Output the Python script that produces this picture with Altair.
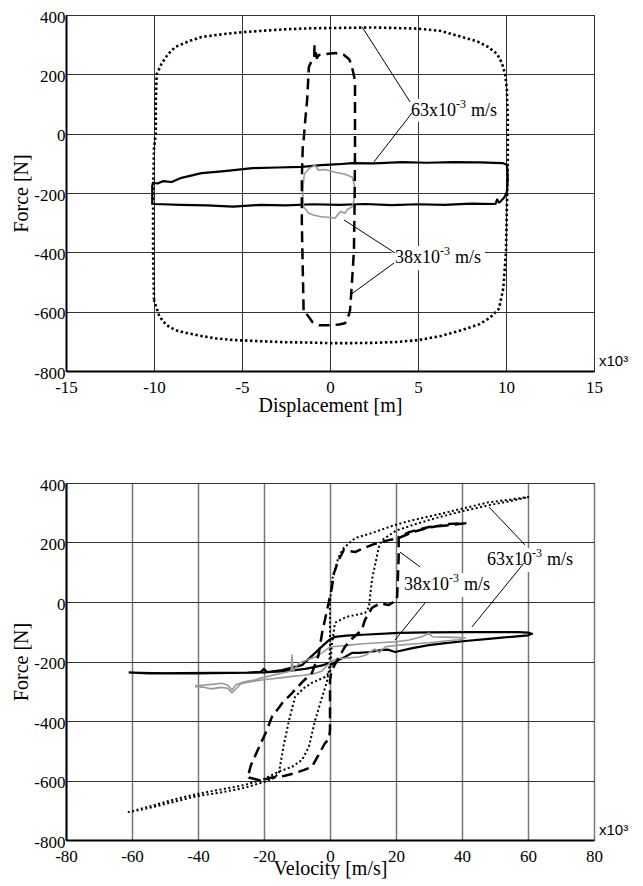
import altair as alt
import pandas as pd

# ---------------- TOP PANEL: Force [N] vs Displacement [x10^-3 m] ----------------
# 63x10^-3 m/s, dotted (large amplitude)
top_dot_x = [-10.0, -10.05, -10.05, -10.0, -9.9, -9.9, -9.85, -9.55, -9.2, -8.8, -8.0, -7.3, -6.0, -5.0,
             -3.8, -2.5, -1.2, 0.0, 1.2, 2.5, 3.8, 5.0, 6.3, 7.5, 8.4, 9.0, 9.5, 9.77, 9.95, 10.05, 10.1,
             10.1, 10.05, 10.0, 9.85, 9.6, 9.1, 8.5, 7.5, 6.3, 5.0, 3.8, 2.5, 1.2, 0.0, -1.2, -2.5, -3.8,
             -5.4, -6.5, -7.5, -8.3, -8.8, -9.3, -9.7, -10.0]
top_dot_f = [-560, -400, -200, -50, 0, 100, 200, 238, 268, 292, 312, 326, 336, 342,
             347, 352, 355, 356, 357, 358, 356, 354, 346, 326, 310, 292, 268, 238, 200, 150, 50,
             -100, -250, -400, -520, -590, -620, -642, -662, -682, -696, -702, -705, -706, -706, -704, -703, -700,
             -696, -690, -680, -670, -662, -645, -615, -561]

# 63x10^-3 m/s, solid black
top_sol_x = [-10.1, -10.05, -9.8, -9.5, -9.0, -8.5, -7.3, -6.0, -4.4, -3.0, -1.6, -0.5, 0.5, 1.25, 2.5,
             4.1, 5.5, 7.0, 8.5, 9.8, 10.05, 10.1, 10.05, 9.9, 9.7, 9.6, 9.5, 9.4, 8.0, 6.5, 5.0, 3.5,
             2.0, 0.5, -1.0, -2.5, -4.0, -5.5, -7.0, -8.5, -9.5, -10.1, -10.1]
top_sol_f = [-173, -165, -168, -160, -163, -150, -133, -126, -116, -114, -112, -106, -103, -99, -100,
             -96, -98, -96, -97, -99, -105, -150, -197, -215, -228, -232, -222, -237, -236, -240, -238, -241,
             -237, -240, -238, -242, -240, -246, -242, -240, -238, -237, -173]

# 38x10^-3 m/s, dashed black
top_dash_x = [-1.5, -1.55, -1.6, -1.6, -1.55, -1.5, -1.4, -1.3, -1.2, -1.05, -0.9, -0.88, -0.75, -0.63,
              -0.3, 0.28, 0.8, 1.1, 1.25, 1.38, 1.42, 1.42, 1.4, 1.36, 1.25, 1.14, 1.0, 0.85, 0.5, -0.06,
              -0.6, -1.0, -1.2, -1.5]
top_dash_f = [-595, -450, -300, -150, -50, -22, 50, 113, 225, 245, 258, 295, 255, 265,
              268, 272, 265, 250, 225, 190, 170, -50, -224, -393, -500, -595, -625, -639, -643, -646,
              -646, -635, -618, -595]

# 38x10^-3 m/s, solid grey
top_grey_x = [-1.5, -1.45, -1.2, -0.85, -0.7, -0.63, -0.3, 0.28, 0.8, 1.25, 1.38, 1.42, 1.35, 1.25, 1.0,
              0.85, 0.6, 0.28, -0.2, -0.45, -0.9, -1.2, -1.5, -1.55, -1.5]
top_grey_f = [-157, -135, -118, -106, -120, -123, -121, -130, -136, -146, -170, -200, -228, -247, -255,
              -268, -262, -285, -281, -281, -275, -268, -247, -200, -157]

# ---------------- BOTTOM PANEL: Force [N] vs Velocity [x10^-3 m/s] ----------------
bot_dot_v = [60.3, 55, 48, 42, 31.8, 25, 19.7, 12.7, 7.6, 4.2, 2.6, 0.6, 0.0, 0.0, -0.3, -1.0, -2.4, -4.5,
             -6.4, -8.5, -11.5, -15.5, -20, -25.8, -32, -38.8, -46, -54, -61, -58, -52, -46, -40, -33,
             -26, -20, -17, -15.5, -14, -12.4, -10.6, -8, -5.5, -1.5, 0.0, 0.5, 1.5, 5, 10.6, 11.8, 12.7,
             14.8, 15.8, 20, 26, 32, 40, 48, 55, 60.3]
bot_dot_f = [353, 345, 335, 319, 292, 275, 259, 232, 215, 182, 151, 74, -3, -150, -230, -270, -320, -397,
             -487, -531, -554, -570, -595, -615, -628, -642, -660, -685, -706, -700, -685, -668, -652, -640,
             -625, -605, -592, -575, -480, -397, -319, -290, -272, -252, -235, -150, -70, -50, -37, -17, 74,
             185, 208, 240, 262, 282, 305, 325, 340, 353]

bot_dash_v = [-24.6, -24, -22, -19.5, -17.6, -14.5, -11.5, -8.5, -5.5, -3.5, -2.4, -0.9, 0.6, 1.2, 2.6,
              4.2, 5.5, 7.6, 10, 12.7, 15, 17.8, 20.8, 25, 30, 36, 41, 36, 30, 24, 20.8, 20.8, 20.5, 20.3,
              17.8, 15, 12.7, 10.6, 9.6, 7, 4.5, 2, 0.5, 0.0, 0.0, 0.0, -0.3, -1.5, -3.5, -5.5, -8, -10.6,
              -14, -17.6, -21, -24.6, -24.6]
bot_dash_f = [-575, -550, -500, -440, -386, -340, -306, -270, -239, -180, -104, -27, 50, 97, 141,
              175, 172, 168, 180, 192, 200, 208, 215, 235, 250, 262, 265, 258, 252, 235, 218, 150, 60, 7,
              -10, -5, -20, -60, -95, -120, -151, -200, -230, -262, -350, -430, -460, -474, -515, -554, -565,
              -575, -585, -590, -600, -590, -575]

bot_sol_v = [-61, -55, -45, -35, -25, -21, -20, -19, -14.5, -8.5, -4.5, -2, -0.3, 1.5, 5, 10, 20.9, 30, 41,
             50, 57, 60, 61.2, 60, 55, 48, 41, 35, 30, 25, 19.7, 17.5, 15.8, 12, 8.8, 6.7, 4.5, 2.6, 0.6,
             -0.3, -2, -4.5, -7.5, -10.6, -15, -20, -30, -40, -50, -61]
bot_sol_f = [-237, -240, -239, -238, -237, -235, -225, -236, -229, -212, -171, -145, -128, -117, -113, -110,
             -104, -102, -101, -101, -101, -103, -107, -112, -117, -124, -131, -138, -145, -155, -168, -160,
             -161, -168, -171, -171, -185, -195, -210, -205, -212, -218, -225, -229, -233, -237, -238, -240,
             -240, -237]

bot_grey_v = [-40.9, -38, -35, -32.7, -31, -29.7, -28.5, -26, -23, -20.6, -17, -14, -11.8, -11.5, -11.2,
              -9.4, -7, -4.5, -2.4, 0, 3, 5.8, 9, 13.6, 16, 19.7, 24, 28, 30, 31, 34, 38, 41, 39, 35, 30,
              25, 21, 17, 15.5, 15, 13.5, 11, 8.8, 5, 2.6, 0.5, -1, -2.4, -4.5, -8, -11.5, -15, -18, -20.6,
              -24, -27, -29.7, -31, -33, -36, -38.5, -40.9]
bot_grey_f = [-282, -279, -276, -273, -280, -296, -278, -268, -262, -255, -245, -238, -232, -178, -232,
              -205, -195, -185, -171, -151, -148, -145, -141, -138, -136, -134, -128, -116, -104, -117, -118,
              -119, -121, -127, -131, -137, -141, -145, -150, -162, -170, -158, -178, -185, -188, -190, -198,
              -215, -232, -240, -246, -250, -255, -259, -262, -268, -275, -306, -290, -287, -292, -286, -285]

# tick values
top_x_ticks = [-15, -10, -5, 0, 5, 10, 15]
bot_x_ticks = [-80, -60, -40, -20, 0, 20, 40, 60, 80]
force_ticks = [-800, -600, -400, -200, 0, 200, 400]

# label texts: base, superscript, unit
label_main = ["63x10", "38x10"]
label_sup = ["-3", "-3"]
label_unit = ["m/s", "m/s"]

# annotation placement (data units): left edge of label text, white box behind it
top_labels = pd.DataFrame({"x": [4.6, 3.69], "f": [78, -420],
                           "x0": [4.3, 3.5], "x1": [9.75, 8.8], "f0": [40, -460], "f1": [117, -379]})
top_leaders = pd.DataFrame({"x": [4.55, 4.66, 3.69, 3.64], "f": [107, 70, -402, -436],
                            "x2": [1.82, 2.5, 0.8, 1.14], "f2": [360, -95, -291, -544]})
bot_labels = pd.DataFrame({"x": [47.6, 22.4], "f": [141, 57],
                           "x0": [46.7, 21.4], "x1": [74.5, 49.1], "f0": [101, 17], "f1": [181, 97]})
bot_leaders = pd.DataFrame({"x": [59.1, 58.8, 27.3, 28.8], "f": [192, 131, 118, -3],
                            "x2": [48.2, 43, 21.2, 19.7], "f2": [319, -84, 168, -128]})
for _df in (top_labels, bot_labels):
    _df["main"] = label_main
    _df["sup"] = label_sup
    _df["unit"] = label_unit

SERIF = "Liberation Serif"


def frame(xs, fs):
    return pd.DataFrame({"x": xs, "f": fs, "i": list(range(len(xs)))})


def panel(xdom, xticks, xtitle, xgrid_color, xgrid_w, xtitle_pad, series, labels, leaders, height):
    xs = alt.Scale(domain=xdom, nice=False, zero=False)
    ys = alt.Scale(domain=[-800, 400], nice=False, zero=False)
    xa = alt.Axis(values=xticks, title=xtitle, labelExpr="toString(datum.value)",
                  labelFont=SERIF, labelFontSize=17, titleFont=SERIF, titleFontSize=20,
                  labelPadding=8, titlePadding=xtitle_pad,
                  gridColor=xgrid_color, gridWidth=xgrid_w)
    ya = alt.Axis(values=force_ticks, title="Force [N]", labelExpr="toString(datum.value)",
                  labelFont=SERIF, labelFontSize=17, titleFont=SERIF, titleFontSize=20,
                  labelPadding=1, labelOffset=2, titlePadding=2)
    X = lambda f="x:Q": alt.X(f, scale=xs, axis=xa)
    Y = lambda f="f:Q": alt.Y(f, scale=ys, axis=ya)

    layers = []
    for df, style in series:
        layers.append(alt.Chart(df).mark_line(strokeCap="butt", strokeJoin="round", **style)
                      .encode(x=X(), y=Y(), order="i:Q"))
    layers.append(alt.Chart(labels).mark_rect(color="white", opacity=1)
                  .encode(x=X("x0:Q"), x2="x1", y=Y("f0:Q"), y2="f1"))
    layers.append(alt.Chart(leaders).mark_rule(color="black", strokeWidth=1)
                  .encode(x=X(), y=Y(), x2="x2", y2="f2"))
    txt = dict(font=SERIF, color="black", align="left", baseline="middle")
    layers.append(alt.Chart(labels).mark_text(fontSize=18, **txt)
                  .encode(x=X(), y=Y(), text="main:N"))
    layers.append(alt.Chart(labels).mark_text(fontSize=12, dx=45, dy=-7, **txt)
                  .encode(x=X(), y=Y(), text="sup:N"))
    layers.append(alt.Chart(labels).mark_text(fontSize=18, dx=60, **txt)
                  .encode(x=X(), y=Y(), text="unit:N"))
    corner = pd.DataFrame({"x": [xdom[1]], "f": [-800], "t": ["x10\u00b3"]})
    layers.append(alt.Chart(corner).mark_text(font="Liberation Sans", fontSize=15, color="black",
                                              align="left", baseline="alphabetic", dx=5, dy=-5)
                  .encode(x=X(), y=Y(), text="t:N"))
    return alt.layer(*layers).properties(width=528, height=height)


dot = dict(color="black", strokeWidth=2.6, strokeDash=[2.4, 2.6])
dot_thin = dict(color="black", strokeWidth=2, strokeDash=[2, 2.5])
dash = dict(color="black", strokeWidth=2.5, strokeDash=[11, 6])
solid = dict(color="black", strokeWidth=2.2)
grey = dict(color="#999999", strokeWidth=1.6)

top = panel([-15, 15], top_x_ticks, "Displacement [m]", "#333333", 1, 0,
            [(frame(top_dot_x, top_dot_f), dot), (frame(top_sol_x, top_sol_f), solid),
             (frame(top_grey_x, top_grey_f), grey), (frame(top_dash_x, top_dash_f), dash)],
            top_labels, top_leaders, 356)

bottom = panel([-80, 80], bot_x_ticks, "Velocity [m/s]", "#777777", 1.5, -6,
               [(frame(bot_dot_v, bot_dot_f), dot_thin), (frame(bot_sol_v, bot_sol_f), solid),
                (frame(bot_grey_v, bot_grey_f), grey), (frame(bot_dash_v, bot_dash_f), dash)],
               bot_labels, bot_leaders, 357)

chart = alt.vconcat(top, bottom, spacing=112).properties(
    bounds="flush",
    padding={"left": 3, "top": -1, "right": 5, "bottom": 0},
    background="white",
).configure_axis(
    labelFont=SERIF, labelFontSize=17, labelColor="black",
    titleFont=SERIF, titleFontSize=20, titleFontWeight="normal", titleColor="black",
    domainColor="black", domainWidth=2, ticks=False, tickSize=0,
    gridColor="#333333", gridOpacity=1, gridWidth=1, labelOverlap=False, labelFlush=False,
).configure_view(stroke="black", strokeWidth=1)

chart.save("out.html", embed_options={"renderer": "svg", "actions": False})
